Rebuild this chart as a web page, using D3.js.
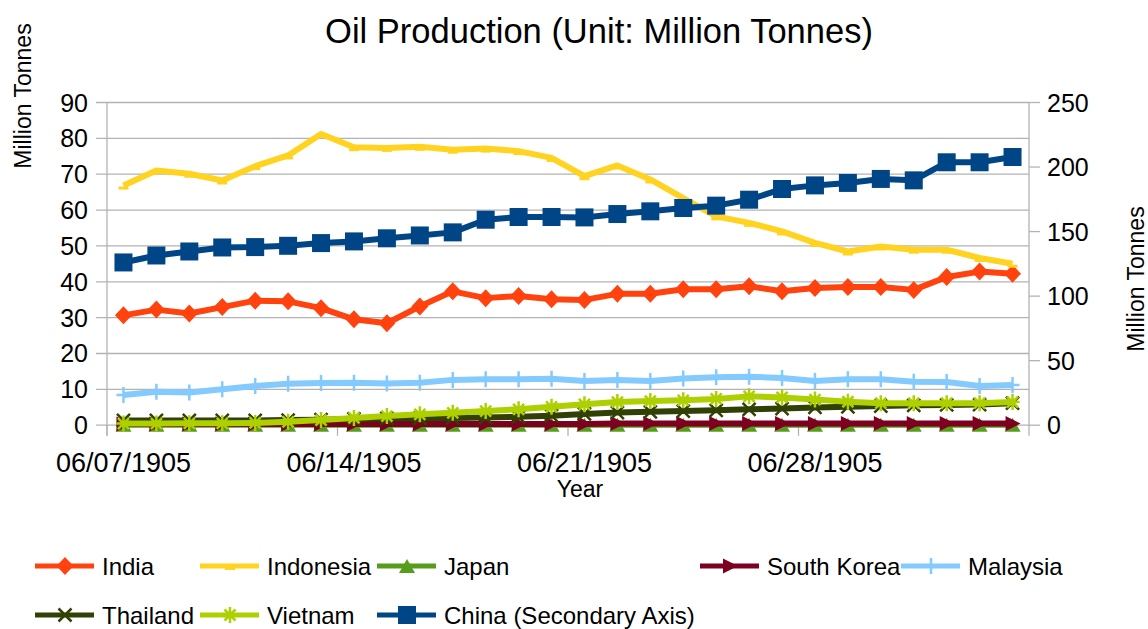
<!DOCTYPE html>
<html>
<head>
<meta charset="utf-8">
<script src="https://cdn.jsdelivr.net/npm/d3@7/dist/d3.min.js"></script>
<style>
  html, body { margin: 0; padding: 0; background: #fff; }
  svg { display: block; font-family: "Liberation Sans", Arial, sans-serif; }
</style>
</head>
<body>
<svg id="chart" width="1148" height="629"></svg>
<script>
// Daily categories
const dates = [
  "06/07/1905","06/08/1905","06/09/1905","06/10/1905","06/11/1905","06/12/1905","06/13/1905",
  "06/14/1905","06/15/1905","06/16/1905","06/17/1905","06/18/1905","06/19/1905","06/20/1905",
  "06/21/1905","06/22/1905","06/23/1905","06/24/1905","06/25/1905","06/26/1905","06/27/1905",
  "06/28/1905","06/29/1905","06/30/1905","07/01/1905","07/02/1905","07/03/1905","07/04/1905"
];
const xTickLabels = ["06/07/1905","06/14/1905","06/21/1905","06/28/1905"];
const leftTicks = [0,10,20,30,40,50,60,70,80,90];
const rightTicks = [0,50,100,150,200,250];

// Production, million tonnes
const india     = [30.5,32.1,31.0,32.8,34.6,34.4,32.5,29.4,28.3,33.0,37.2,35.3,35.9,35.0,34.8,36.5,36.5,37.8,37.8,38.6,37.2,38.1,38.4,38.4,37.6,41.2,42.7,42.1];
const indonesia = [66.7,70.9,70.0,68.1,72.1,75.1,81.1,77.4,77.2,77.5,76.7,77.0,76.3,74.4,69.3,72.3,68.4,63.2,58.1,56.3,53.9,50.7,48.3,49.7,48.8,48.8,46.5,44.9];
const japan     = [0.0,0.0,0.0,0.0,0.0,0.0,0.0,0.0,0.0,0.0,0.0,0.0,0.0,0.0,0.0,0.0,0.0,0.0,0.0,0.0,0.0,0.0,0.0,0.0,0.0,0.0,0.0,0.0];
const southKorea= [0.2,0.2,0.2,0.2,0.2,0.2,0.2,0.2,0.2,0.2,0.2,0.2,0.2,0.2,0.2,0.3,0.3,0.3,0.3,0.3,0.3,0.3,0.3,0.3,0.3,0.3,0.3,0.3];
const malaysia  = [8.3,9.2,9.0,9.9,10.8,11.4,11.6,11.7,11.5,11.7,12.5,12.7,12.7,12.8,12.2,12.5,12.2,12.9,13.2,13.4,13.0,12.2,12.7,12.7,12.0,11.9,10.8,11.1];
const thailand  = [1.2,1.2,1.2,1.2,1.2,1.3,1.4,1.6,1.8,1.8,1.9,2.0,2.2,2.5,3.0,3.4,3.6,3.8,4.0,4.3,4.5,4.8,5.0,5.2,5.4,5.5,5.6,6.0];
const vietnam   = [0.3,0.3,0.4,0.4,0.5,0.8,1.3,1.9,2.4,2.9,3.3,3.8,4.3,5.0,5.7,6.3,6.6,6.8,7.2,7.9,7.6,7.0,6.4,6.0,6.0,6.0,6.0,6.3];
const china     = [125.7,131.1,134.2,137.3,137.6,138.6,140.7,142.0,144.4,146.6,149.0,158.8,160.9,160.9,160.6,163.2,165.3,167.9,169.7,174.3,182.6,185.4,187.3,190.4,189.3,203.3,203.3,207.4];

const seriesNames  = ["India","Indonesia","Japan","South Korea","Malaysia","Thailand","Vietnam","China (Secondary Axis)"];
const seriesValues = [india, indonesia, japan, southKorea, malaysia, thailand, vietnam, china];
const seriesColors = ["#ff420e","#ffd320","#579d1c","#7e0021","#83caff","#314004","#aecf00","#004586"];
const seriesMarkers = ["diamond","dash","triangleUp","triangleRight","plus","cross","star","square"];
const seriesAxis   = ["left","left","left","left","left","left","left","right"];

// ---- layout ----
const plot = { left: 107, right: 1029, top: 102, bottom: 424.7 };
const svg = d3.select("#chart");

const x = d3.scaleBand().domain(dates).range([plot.left, plot.right]).padding(0);
const yL = d3.scaleLinear().domain([0, 90]).range([plot.bottom, plot.top]);
const yR = d3.scaleLinear().domain([0, 250]).range([plot.bottom, plot.top]);
const cx = d => x(d) + x.bandwidth() / 2;

const gridColor = "#b3b3b3";
const FONT = "Liberation Sans, Arial, sans-serif";

// horizontal gridlines with left ticks
const leftAxis = d3.axisLeft(yL).tickValues(leftTicks).tickSize(plot.right - plot.left + 11).tickPadding(8).tickFormat(d3.format("d"));
const gL = svg.append("g").attr("transform", `translate(${plot.right},0)`).call(leftAxis);
gL.select(".domain").remove();
gL.selectAll(".tick line").attr("stroke", gridColor).attr("stroke-width", 1.3);
gL.selectAll(".tick text").attr("font-size", 25).attr("font-family", FONT).attr("fill", "#000")
  .attr("x", -(plot.right - plot.left + 19)).attr("dy", "0.36em");

// right axis ticks
const rightAxis = d3.axisRight(yR).tickValues(rightTicks).tickSize(11).tickPadding(7).tickFormat(d3.format("d"));
const gR = svg.append("g").attr("transform", `translate(${plot.right},0)`).call(rightAxis);
gR.select(".domain").remove();
gR.selectAll(".tick line").attr("stroke", gridColor).attr("stroke-width", 1.3);
gR.selectAll(".tick text").attr("font-size", 25).attr("font-family", FONT).attr("fill", "#000").attr("dy", "0.36em");

// vertical axis lines
[plot.left, plot.right].forEach(px => {
  svg.append("line").attr("x1", px).attr("x2", px).attr("y1", plot.top).attr("y2", plot.bottom + 11)
    .attr("stroke", gridColor).attr("stroke-width", 1.3);
});

// category axis: ticks between every seventh day, labels at the day
const bottomAxis = d3.axisBottom(x).tickValues(xTickLabels).tickSize(0).tickPadding(0);
const gB = svg.append("g").attr("transform", `translate(0,${plot.bottom})`).call(bottomAxis);
gB.select(".domain").remove();
gB.selectAll(".tick text").attr("font-size", 27).attr("font-family", FONT).attr("fill", "#000")
  .attr("y", 47).attr("dy", "0");
xTickLabels.forEach(d => {
  const bx = x(d);
  svg.append("line").attr("x1", bx).attr("x2", bx).attr("y1", plot.bottom).attr("y2", plot.bottom + 11)
    .attr("stroke", gridColor).attr("stroke-width", 1.3);
});

// marker shapes
function markerPath(kind) {
  switch (kind) {
    case "square": return "M-9,-9H9V9H-9Z";
    case "diamond": return "M0,-9L8.5,0L0,9L-8.5,0Z";
    case "triangleUp": return "M0,-7L8,7H-8Z";
    case "triangleRight": return "M-7,-7.5L8,0L-7,7.5Z";
    case "plus": return "M-7,0H7M0,-8V8";
    case "cross": return "M-6.5,-6.5L6.5,6.5M-6.5,6.5L6.5,-6.5";
    case "star": return "M-7,0H7M0,-8V8M-5.5,-5.5L5.5,5.5M-5.5,5.5L5.5,-5.5";
    case "dash": return "M-5,1H5V4H-5Z";
  }
}
const strokeMarkers = new Set(["plus","cross","star"]);
function drawMarker(g, kind, color, px, py) {
  const p = g.append("path").attr("d", markerPath(kind)).attr("transform", `translate(${px},${py})`);
  if (strokeMarkers.has(kind)) p.attr("fill", "none").attr("stroke", color).attr("stroke-width", 2.5);
  else p.attr("fill", color);
}

// series
seriesNames.forEach((name, i) => {
  const vals = seriesValues[i];
  const ys = seriesAxis[i] === "right" ? yR : yL;
  const g = svg.append("g").attr("class", "series");
  const line = d3.line().x((v, k) => cx(dates[k])).y(v => ys(v));
  g.append("path").datum(vals).attr("d", line).attr("fill", "none")
    .attr("stroke", seriesColors[i]).attr("stroke-width", 6).attr("stroke-linejoin", "round");
  vals.forEach((v, k) => drawMarker(g, seriesMarkers[i], seriesColors[i], cx(dates[k]), ys(v)));
});

// titles
svg.append("text").attr("x", 599).attr("y", 43).attr("text-anchor", "middle")
  .attr("font-size", 34.5).attr("font-family", FONT).text("Oil Production (Unit: Million Tonnes)");
svg.append("text").attr("transform", "translate(31,96) rotate(-90)").attr("text-anchor", "middle")
  .attr("font-size", 23).attr("font-family", FONT).text("Million Tonnes");
svg.append("text").attr("transform", "translate(1144,279) rotate(-90)").attr("text-anchor", "middle")
  .attr("font-size", 23).attr("font-family", FONT).text("Million Tonnes");
svg.append("text").attr("x", 580).attr("y", 497).attr("text-anchor", "middle")
  .attr("font-size", 23).attr("font-family", FONT).text("Year");

// legend
const legendPos = [[35,566],[200,566],[377,566],[700,566],[901,566],[35,615],[200,615],[377,615]];
seriesNames.forEach((name, i) => {
  const [lx, ly] = legendPos[i];
  const g = svg.append("g").attr("class", "legend-item");
  g.append("line").attr("x1", lx).attr("x2", lx + 59).attr("y1", ly).attr("y2", ly)
    .attr("stroke", seriesColors[i]).attr("stroke-width", 5);
  drawMarker(g, seriesMarkers[i], seriesColors[i], lx + 30, ly);
  g.append("text").attr("x", lx + 67).attr("y", ly).attr("dy", "0.36em")
    .attr("font-size", 24).attr("font-family", FONT).text(name);
});
</script>
</body>
</html>
